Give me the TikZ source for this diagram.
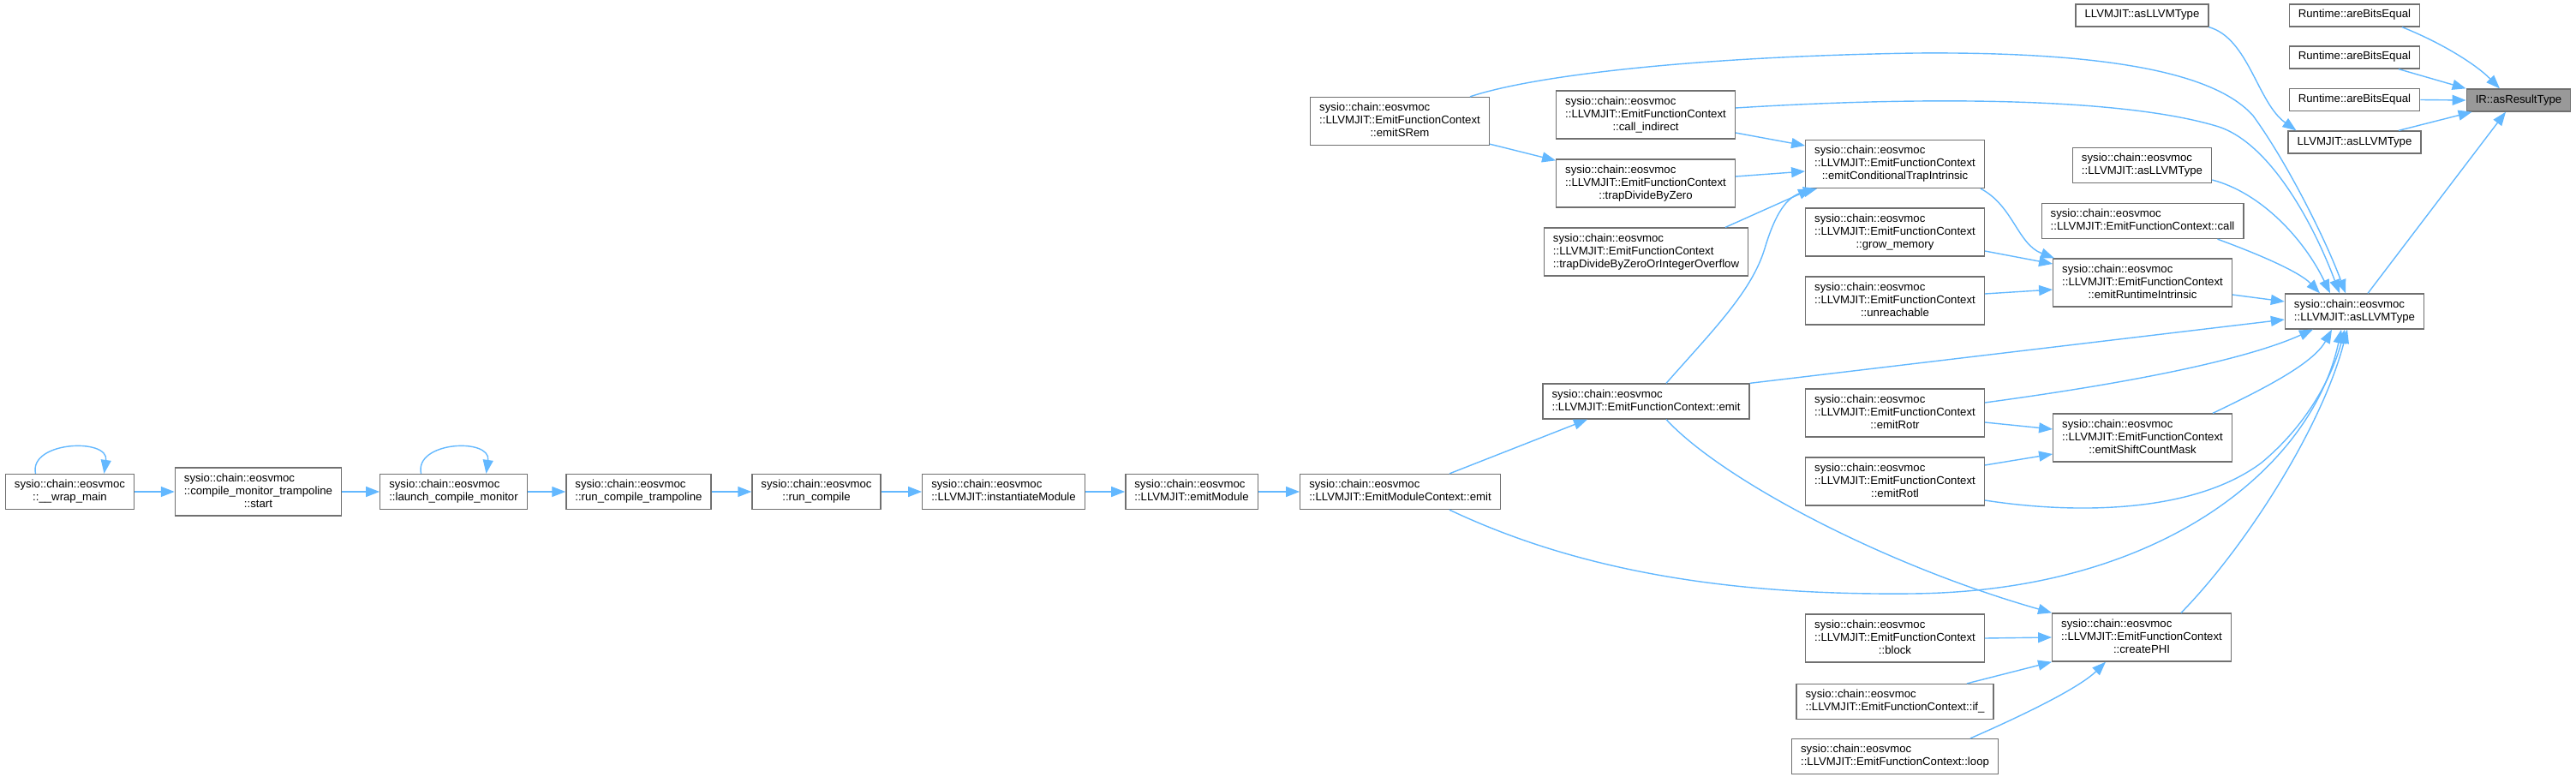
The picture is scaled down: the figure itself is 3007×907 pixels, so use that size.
\documentclass[tikz,border=0pt]{standalone}
\usepackage{fontspec}
\usepackage{tikz}
\usetikzlibrary{arrows.meta}
\newfontfamily\dxfont{Liberation Sans}
\definecolor{edgeblue}{RGB}{99,184,255}
\definecolor{boxgray}{RGB}{112,112,112}
\definecolor{rootgray}{RGB}{153,153,153}
\newcommand{\lblone}[1]{\begin{tabular}{@{}c@{}}#1\end{tabular}}
\newcommand{\lbltwo}[2]{\begin{tabular}{@{}l@{}}#1\\\multicolumn{1}{@{}c@{}}{#2}\end{tabular}}
\newcommand{\lblthree}[3]{\begin{tabular}{@{}l@{}}#1\\#2\\\multicolumn{1}{@{}c@{}}{#3}\end{tabular}}
\tikzset{
  fn/.style   = {draw=boxgray, fill=white, line width=1.3pt, inner xsep=10.5pt,
                 inner ysep=5.5pt, font=\dxfont\fontsize{13.2}{15}\selectfont},
  root/.style = {fn, fill=rootgray},
  arr/.style  = {-{Triangle[length=16pt,width=12pt]}, edgeblue, line width=1.4pt}
}

\begin{document}
\begin{tikzpicture}[x=1pt, y=-1pt]
  \useasboundingbox (0,0) rectangle (3007,907);

  \node[fn] (wrap)     at (81.5,574)   {\lbltwo{sysio::chain::eosvmoc}{::\_\_wrap\_main}};
  \node[fn] (start)    at (301.5,574)  {\lblthree{sysio::chain::eosvmoc}{::compile\_monitor\_trampoline}{::start}};
  \node[fn] (launch)   at (529.5,574)  {\lbltwo{sysio::chain::eosvmoc}{::launch\_compile\_monitor}};
  \node[fn] (runtramp) at (745.5,574)  {\lbltwo{sysio::chain::eosvmoc}{::run\_compile\_trampoline}};
  \node[fn] (runcomp)  at (953,574)    {\lbltwo{sysio::chain::eosvmoc}{::run\_compile}};
  \node[fn] (instmod)  at (1171.5,574) {\lbltwo{sysio::chain::eosvmoc}{::LLVMJIT::instantiateModule}};
  \node[fn] (emitmod)  at (1391,574)   {\lbltwo{sysio::chain::eosvmoc}{::LLVMJIT::emitModule}};
  \node[fn] (modemit)  at (1634.5,574) {\lbltwo{sysio::chain::eosvmoc}{::LLVMJIT::EmitModuleContext::emit}};
  \node[fn] (fnemit)   at (1921.5,468.5) {\lbltwo{sysio::chain::eosvmoc}{::LLVMJIT::EmitFunctionContext::emit}};

  \node[fn] (srem)     at (1634,141.5) {\lblthree{sysio::chain::eosvmoc}{::LLVMJIT::EmitFunctionContext}{::emitSRem}};
  \node[fn] (callind)  at (1921,134)   {\lblthree{sysio::chain::eosvmoc}{::LLVMJIT::EmitFunctionContext}{::call\_indirect}};
  \node[fn] (trapdz)   at (1921,214)   {\lblthree{sysio::chain::eosvmoc}{::LLVMJIT::EmitFunctionContext}{::trapDivideByZero}};
  \node[fn] (trapdzo)  at (1921.5,294) {\lblthree{sysio::chain::eosvmoc}{::LLVMJIT::EmitFunctionContext}{::trapDivideByZeroOrIntegerOverflow}};

  \node[fn] (condtrap) at (2212,191.5) {\lblthree{sysio::chain::eosvmoc}{::LLVMJIT::EmitFunctionContext}{::emitConditionalTrapIntrinsic}};
  \node[fn] (growmem)  at (2212,271)   {\lblthree{sysio::chain::eosvmoc}{::LLVMJIT::EmitFunctionContext}{::grow\_memory}};
  \node[fn] (unreach)  at (2212,351)   {\lblthree{sysio::chain::eosvmoc}{::LLVMJIT::EmitFunctionContext}{::unreachable}};
  \node[fn] (rotr)     at (2212,482)   {\lblthree{sysio::chain::eosvmoc}{::LLVMJIT::EmitFunctionContext}{::emitRotr}};
  \node[fn] (rotl)     at (2212,562)   {\lblthree{sysio::chain::eosvmoc}{::LLVMJIT::EmitFunctionContext}{::emitRotl}};
  \node[fn] (block)    at (2212,745)   {\lblthree{sysio::chain::eosvmoc}{::LLVMJIT::EmitFunctionContext}{::block}};
  \node[fn] (iff)      at (2212,819)   {\lbltwo{sysio::chain::eosvmoc}{::LLVMJIT::EmitFunctionContext::if\_}};
  \node[fn] (loop)     at (2212,883)   {\lbltwo{sysio::chain::eosvmoc}{::LLVMJIT::EmitFunctionContext::loop}};

  \node[fn] (jitas1)   at (2500.5,18)  {\lblone{LLVMJIT::asLLVMType}};
  \node[fn] (smallas)  at (2500.5,193) {\lbltwo{sysio::chain::eosvmoc}{::LLVMJIT::asLLVMType}};
  \node[fn] (call)     at (2501,258)   {\lbltwo{sysio::chain::eosvmoc}{::LLVMJIT::EmitFunctionContext::call}};
  \node[fn] (rtint)    at (2501,330)   {\lblthree{sysio::chain::eosvmoc}{::LLVMJIT::EmitFunctionContext}{::emitRuntimeIntrinsic}};
  \node[fn] (shiftmask) at (2501,511)  {\lblthree{sysio::chain::eosvmoc}{::LLVMJIT::EmitFunctionContext}{::emitShiftCountMask}};
  \node[fn] (createphi) at (2500,744)  {\lblthree{sysio::chain::eosvmoc}{::LLVMJIT::EmitFunctionContext}{::createPHI}};

  \node[fn] (rt1)      at (2748.5,18)    {\lblone{Runtime::areBitsEqual}};
  \node[fn] (rt2)      at (2748.5,67)    {\lblone{Runtime::areBitsEqual}};
  \node[fn] (rt3)      at (2748.5,116.5) {\lblone{Runtime::areBitsEqual}};
  \node[fn] (jitas2)   at (2748.5,166)   {\lblone{LLVMJIT::asLLVMType}};
  \node[fn] (aslt)     at (2748.5,363.5) {\lbltwo{sysio::chain::eosvmoc}{::LLVMJIT::asLLVMType}};
  \node[root] (ir)     at (2940,117)     {\lblone{IR::asResultType}};

  % call chain along the bottom row
  \draw[arr] ([xshift=-40pt]wrap.north) .. controls +(-8,-38) and +(6,-42) .. ([xshift=40pt]wrap.north);
  \draw[arr] (wrap.east) -- (start.west);
  \draw[arr] (start.east) -- (launch.west);
  \draw[arr] ([xshift=-38pt]launch.north) .. controls +(-8,-38) and +(6,-42) .. ([xshift=38pt]launch.north);
  \draw[arr] (launch.east) -- (runtramp.west);
  \draw[arr] (runtramp.east) -- (runcomp.west);
  \draw[arr] (runcomp.east) -- (instmod.west);
  \draw[arr] (instmod.east) -- (emitmod.west);
  \draw[arr] (emitmod.east) -- (modemit.west);
  \draw[arr] ([xshift=57.5pt]modemit.north) -- ([xshift=-68.5pt]fnemit.south);
  \draw[arr] ([xshift=57.5pt]modemit.south) .. controls (1850,670) and (2030,695) .. (2232,693)
             .. controls (2530,690) and (2700,540) .. ([xshift=-15.5pt]aslt.south);

  \draw[arr] ([xshift=23.5pt]fnemit.north) .. controls (2000,385) and (2045,340) .. (2060,290)
             .. controls (2075,240) and (2090,228) .. ([xshift=14pt]condtrap.south west);
  \draw[arr] (fnemit.north east) -- ([yshift=-9.5pt]aslt.west);
  \draw[arr] ([xshift=23.5pt]fnemit.south) .. controls (2010,560) and (2200,660) .. (createphi.north west);

  \draw[arr] ([yshift=2pt]srem.south east) -- ([yshift=-2pt]trapdz.north west);
  \draw[arr] ([xshift=82pt]srem.north) .. controls (1790,88) and (1980,66) .. (2236,62)
             .. controls (2480,60) and (2590,90) .. (2630,135)
             .. controls (2670,190) and (2715,280) .. ([xshift=-10.5pt]aslt.north);
  \draw[arr] ([yshift=-21pt]callind.east) -- ([yshift=21.5pt]condtrap.west);
  \draw[arr] ([yshift=8pt]callind.east) .. controls (2250,112) and (2480,114) .. (2590,148)
             .. controls (2650,168) and (2700,260) .. ([xshift=-17.5pt]aslt.north);
  \draw[arr] ([yshift=8pt]trapdz.east) -- ([yshift=-8.5pt]condtrap.west);
  \draw[arr] ([xshift=92.5pt]trapdzo.north) -- ([xshift=8pt]condtrap.south west);

  \draw[arr] ([xshift=-5pt]condtrap.south east) .. controls (2350,240) and (2355,285) .. ([xshift=2pt]rtint.north west);
  \draw[arr] ([yshift=-22pt]growmem.east) -- ([yshift=22pt]rtint.west);
  \draw[arr] ([yshift=8pt]unreach.east) -- ([yshift=-8pt]rtint.west);
  \draw[arr] ([yshift=-14pt]rtint.east) -- ([yshift=11.5pt]aslt.west);

  \draw[arr] ([yshift=12pt]rotr.east) .. controls (2450,452) and (2610,425) .. ([xshift=-48.5pt]aslt.south);
  \draw[arr] ([yshift=-11pt]rotr.east) -- ([yshift=10pt]shiftmask.west);
  \draw[arr] ([yshift=19pt]rotl.east) -- ([yshift=-19pt]shiftmask.west);
  \draw[arr] ([yshift=-22pt]rotl.east) .. controls (2420,600) and (2560,600) .. (2640,540)
             .. controls (2700,490) and (2725,430) .. ([xshift=-11.5pt]aslt.south);
  \draw[arr] ([xshift=82pt]shiftmask.north) .. controls (2640,455) and (2700,425) .. ([xshift=-26.5pt]aslt.south);

  \draw[arr] (block.east) -- (createphi.west);
  \draw[arr] ([xshift=84pt]iff.north) -- (createphi.south west);
  \draw[arr] ([xshift=88pt]loop.north) .. controls (2350,840) and (2425,805) .. ([xshift=-42pt]createphi.south);
  \draw[arr] ([xshift=46pt]createphi.north) .. controls (2620,640) and (2710,500) .. ([xshift=-8.5pt]aslt.south);

  \draw[arr] ([yshift=-17pt]smallas.east) .. controls (2640,225) and (2690,280) .. ([xshift=-28.5pt]aslt.north);
  \draw[arr] ([xshift=-31pt]call.south east) .. controls (2640,298) and (2685,318) .. ([xshift=-40.5pt]aslt.north);
  \draw[arr] (jitas1.south east) .. controls (2625,45) and (2635,120) .. ([xshift=10pt]jitas2.north west);

  \draw[arr] ([xshift=15.5pt]aslt.north) -- ([xshift=-15pt]ir.south);
  \draw[arr] ([xshift=55.5pt]rt1.south) .. controls (2850,50) and (2890,75) .. ([xshift=-22pt]ir.north);
  \draw[arr] ([xshift=51.5pt]rt2.south) -- (ir.north west);
  \draw[arr] (rt3.east) -- (ir.west);
  \draw[arr] ([xshift=51.5pt]jitas2.north) -- ([xshift=7pt]ir.south west);
\end{tikzpicture}
\end{document}
